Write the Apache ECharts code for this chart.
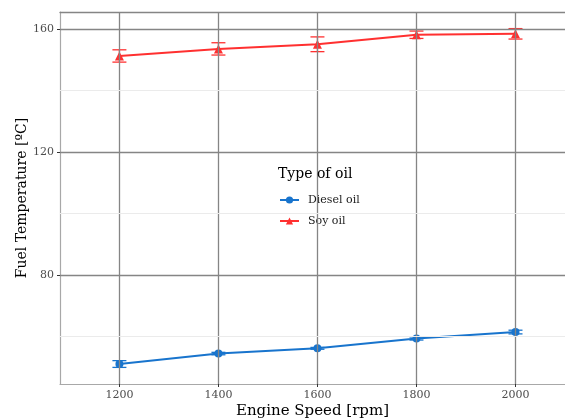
<!DOCTYPE html>
<html>
<head>
<meta charset="utf-8">
<script src="https://cdn.jsdelivr.net/npm/echarts@6/dist/echarts.min.js"></script>
<style>html,body{margin:0;padding:0;background:#fff;}#c{width:565px;height:418px;}</style>
</head>
<body>
<div id="c"></div>
<script>
var speeds = [1200, 1400, 1600, 1800, 2000];
var dieselMean = [51.0, 54.4, 56.1, 59.3, 61.4];
var dieselErr = [1.1, 0.4, 0.3, 0.5, 0.6];
var soyMean = [151.2, 153.5, 155.0, 158.1, 158.4];
var soyErr = [2.0, 2.0, 2.4, 1.2, 1.7];
var xTicks = [1200, 1400, 1600, 1800, 2000];
var yTicks = [80, 120, 160];
var yMinor = [60, 100, 140];

var FONT = 'DejaVu Serif';
var BLUE = '#1874CD';
var RED = '#FF3030';

function errData(mean, err) {
  return speeds.map(function (s, i) { return [s, mean[i] - err[i], mean[i] + err[i]]; });
}
function errSeries(mean, err, color) {
  return {
    type: 'custom', z: 3, silent: true,
    data: errData(mean, err),
    encode: { x: 0, y: [1, 2] },
    renderItem: function (params, api) {
      var x = api.value(0);
      var lo = api.coord([x, api.value(1)]);
      var hi = api.coord([x, api.value(2)]);
      var hw = 7;
      var st = { stroke: color, lineWidth: 1.3 };
      return { type: 'group', children: [
        { type: 'line', shape: { x1: lo[0], y1: lo[1], x2: hi[0], y2: hi[1] }, style: st },
        { type: 'line', shape: { x1: lo[0] - hw, y1: lo[1], x2: lo[0] + hw, y2: lo[1] }, style: st },
        { type: 'line', shape: { x1: hi[0] - hw, y1: hi[1], x2: hi[0] + hw, y2: hi[1] }, style: st }
      ]};
    }
  };
}

var gridLines = [];
xTicks.forEach(function (v) { gridLines.push({ xAxis: v, lineStyle: { color: '#858585', width: 1.3, type: 'solid' } }); });
yTicks.forEach(function (v) { gridLines.push({ yAxis: v, lineStyle: { color: '#858585', width: 1.3, type: 'solid' } }); });
yMinor.forEach(function (v) { gridLines.push({ yAxis: v, lineStyle: { color: '#ebebeb', width: 1, type: 'solid' } }); });

var chart = echarts.init(document.getElementById('c'));
chart.setOption({
  animation: false,
  backgroundColor: '#fff',
  grid: { left: 60, top: 12, right: 0, bottom: 34, containLabel: false, outerBoundsMode: 'none' },
  xAxis: [{
    type: 'value', min: 1080, max: 2100,
    splitLine: { show: false },
    axisLine: { show: true, lineStyle: { color: '#a8a8a8', width: 1.2 } },
    axisTick: { show: true, customValues: xTicks, length: 3, lineStyle: { color: '#333', width: 1 } },
    axisLabel: { customValues: xTicks, formatter: function (v) { return String(v); }, color: '#4d4d4d', fontFamily: FONT, fontSize: 11, margin: 6 },
    name: 'Engine Speed [rpm]', nameLocation: 'middle', nameGap: 20, nameMoveOverlap: false,
    nameTextStyle: { color: '#000', fontFamily: FONT, fontSize: 15 }
  }, {
    type: 'value', min: 1080, max: 2100, position: 'top',
    splitLine: { show: false },
    axisLine: { show: true, lineStyle: { color: '#858585', width: 1.3 } },
    axisTick: { show: false }, axisLabel: { show: false }
  }],
  yAxis: {
    type: 'value', min: 44.5, max: 165.5,
    splitLine: { show: false },
    axisLine: { show: true, lineStyle: { color: '#a8a8a8', width: 1.2 } },
    axisTick: { show: true, customValues: yTicks, length: 3, lineStyle: { color: '#333', width: 1 } },
    axisLabel: { customValues: yTicks, formatter: function (v) { return String(v); }, color: '#4d4d4d', fontFamily: FONT, fontSize: 11, margin: 6 },
    name: 'Fuel Temperature [ºC]', nameLocation: 'middle', nameGap: 31, nameMoveOverlap: false,
    nameTextStyle: { color: '#000', fontFamily: FONT, fontSize: 14 }
  },
  legend: {
    orient: 'vertical', left: 277, top: 166,
    padding: [27, 8, 6, 2],
    backgroundColor: '#fff',
    itemWidth: 19, itemHeight: 9, itemGap: 7,
    textStyle: { fontFamily: FONT, fontSize: 11, color: '#1a1a1a', lineHeight: 14, padding: [0, 0, 0, 4] },
    data: ['Diesel oil', 'Soy oil']
  },
  graphic: [{
    type: 'text', left: 278, top: 167, z: 100,
    style: { text: 'Type of oil', font: '14px "DejaVu Serif"', fill: '#000' }
  }],
  series: [
    {
      type: 'line', name: 'grid', data: [], z: 1, silent: true,
      markLine: { silent: true, symbol: 'none', label: { show: false }, animation: false, data: gridLines }
    },
    {
      type: 'line', name: 'Diesel oil', z: 4,
      data: speeds.map(function (s, i) { return [s, dieselMean[i]]; }),
      symbol: 'circle', symbolSize: 8,
      lineStyle: { color: BLUE, width: 2 }, itemStyle: { color: BLUE }
    },
    {
      type: 'line', name: 'Soy oil', z: 4,
      data: speeds.map(function (s, i) { return [s, soyMean[i]]; }),
      symbol: 'triangle', symbolSize: 9,
      lineStyle: { color: RED, width: 2 }, itemStyle: { color: RED }
    },
    errSeries(dieselMean, dieselErr, BLUE),
    errSeries(soyMean, soyErr, RED)
  ]
});
</script>
</body>
</html>
